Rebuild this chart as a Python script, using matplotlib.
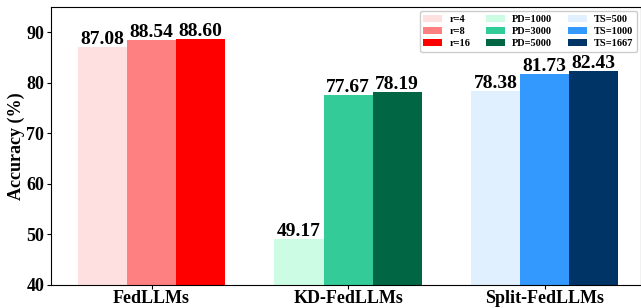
import matplotlib.pyplot as plt
import numpy as np

plt.rcParams['font.family'] = ['Liberation Serif', 'DejaVu Serif']
plt.rcParams['font.weight'] = 'bold'

groups = ["FedLLMs", "KD-FedLLMs", "Split-FedLLMs"]
labels = [["r=4", "r=8", "r=16"],
          ["PD=1000", "PD=3000", "PD=5000"],
          ["TS=500", "TS=1000", "TS=1667"]]
values = [[87.08, 88.54, 88.60],
          [49.17, 77.67, 78.19],
          [78.38, 81.73, 82.43]]
colors = [["#ffe0e0", "#ff8080", "#ff0000"],
          ["#ccfce4", "#33cc99", "#006644"],
          ["#e0f0ff", "#3399ff", "#003366"]]

fig, ax = plt.subplots(figsize=(6.41, 3.08), dpi=100)
fig.subplots_adjust(left=0.08, right=1.0, top=0.977, bottom=0.075)

w = 0.25
x = np.arange(len(groups))
for g in range(3):
    for i in range(3):
        xp = x[g] + (i - 1) * w
        ax.bar(xp, values[g][i], width=w, color=colors[g][i], label=labels[g][i])
        ax.text(xp, values[g][i] - 0.2, "%.2f" % values[g][i], ha='center', va='bottom',
                fontsize=14, fontweight='bold')

ax.set_ylim(40, 95)
ax.set_xlim(-0.51, 2.49)
ax.set_xticks(x)
ax.set_xticklabels(groups, fontsize=13, fontweight='bold')
ax.set_yticks([40, 50, 60, 70, 80, 90])
ax.tick_params(axis='y', labelsize=13, pad=2, length=3)
ax.tick_params(axis='x', pad=1, length=3)
ax.set_ylabel("Accuracy (%)", fontsize=13, fontweight='bold', labelpad=1)

ax.legend(ncol=3, loc='upper right', prop={'weight': 'bold', 'size': 7.5},
          handlelength=1.8, handleheight=0.6, columnspacing=1.5, labelspacing=0.3,
          handletextpad=0.7, borderaxespad=0.4, borderpad=0.35,
          frameon=True, framealpha=1, edgecolor='#cccccc', fancybox=True)

plt.savefig("out.png", dpi=100)
